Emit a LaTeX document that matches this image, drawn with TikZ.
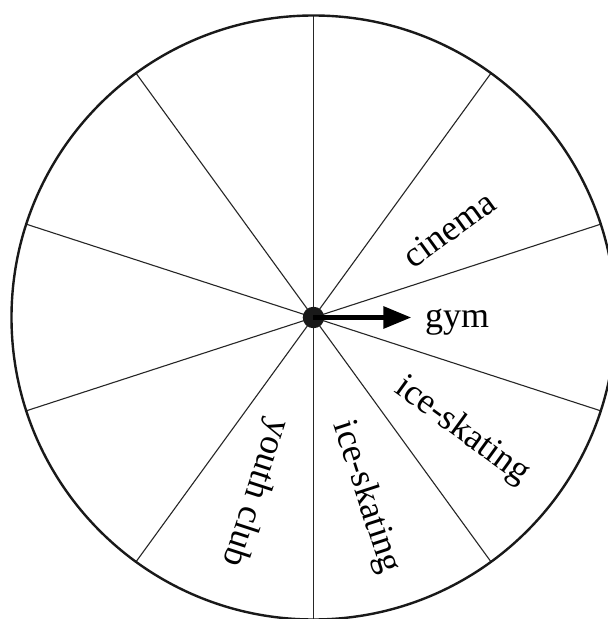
\documentclass[tikz,border=0pt]{standalone}
\usepackage{fontspec}
\setmainfont{Liberation Serif}
\usetikzlibrary{arrows.meta}
\begin{document}
\begin{tikzpicture}[x=1pt,y=1pt,
  rim/.style={line width=2.4pt,draw=black!90},
  spoke/.style={line width=1.1pt,draw=black!85},
  hubdot/.style={circle,fill=black!90,inner sep=0pt,minimum size=21.5pt},
  pointer/.style={line width=5.5pt,-{Triangle[length=28pt,width=21pt]}},
  lbl/.style={inner sep=0pt,font=\fontsize{36}{42}\selectfont}]
\useasboundingbox (-313.5,-301.5) rectangle (294.5,317.5);
\clip (-313.5,-301.5) rectangle (294.5,317.5);
\fill[white] (-313.5,-301.5) rectangle (294.5,317.5);
\coordinate (c) at (0,0);
\foreach \a in {90,54,18,-18,-54,-90,-126,-162,162,126}
  \draw[spoke] (c) -- (\a:302);
\draw[rim] (c) circle[radius=302];
\node[hubdot] (hub) at (c) {};
\coordinate (tip) at (98,0);
\draw[pointer] (hub.center) -- (tip);
\node[lbl,rotate=36] (cinema) at (135.5,88.5) {cinema};
\node[lbl,anchor=base west] (gym) at (111.5,-9.5) {gym};
\node[lbl,rotate=-36] (ice1) at (148.5,-113.5) {ice-skating};
\node[lbl,rotate=-72] (ice2) at (52.5,-179.5) {ice-skating};
\node[lbl,rotate=-108] (youth) at (-58.5,-175.5) {youth club};
\end{tikzpicture}
\end{document}
